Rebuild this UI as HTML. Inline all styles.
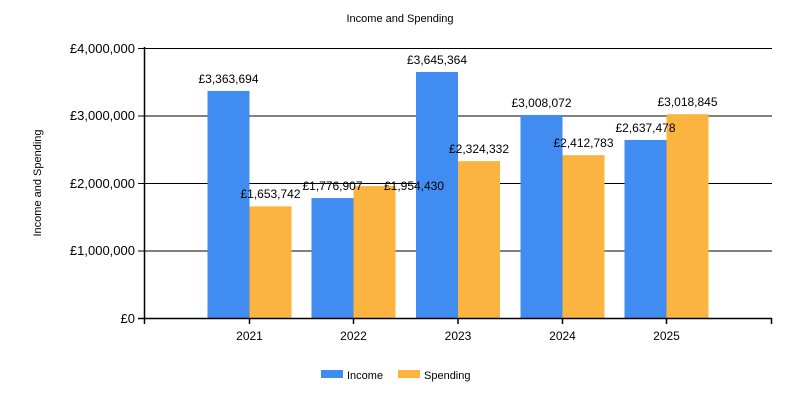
<!DOCTYPE html>
<html><head><style>
body{margin:0;background:#fff;}
svg{display:block;font-family:"Liberation Sans",Arial,sans-serif;}
</style></head><body>
<svg width="800" height="400" xmlns="http://www.w3.org/2000/svg">
<rect width="800" height="400" fill="#fff"/>
<text x="400" y="22" font-size="11" text-anchor="middle">Income and Spending</text>
<text transform="translate(41,183) rotate(-90)" font-size="11" text-anchor="middle">Income and Spending</text>
<g stroke="#000" stroke-width="1">
<line x1="138" y1="48.5" x2="772" y2="48.5"/>
<line x1="138" y1="116" x2="772" y2="116"/>
<line x1="138" y1="183.5" x2="772" y2="183.5"/>
<line x1="138" y1="251" x2="772" y2="251"/>
</g>
<g font-size="13" text-anchor="end">
<text x="135" y="53">£4,000,000</text>
<text x="135" y="120">£3,000,000</text>
<text x="135" y="188">£2,000,000</text>
<text x="135" y="255">£1,000,000</text>
<text x="135" y="323">£0</text>
</g>
<g>
<rect x="207.5" y="90.95" width="42" height="227.05" fill="#418CF0"/>
<rect x="249.5" y="206.37" width="42" height="111.63" fill="#FCB441"/>
<rect x="311.5" y="198.06" width="42" height="119.94" fill="#418CF0"/>
<rect x="353.5" y="186.08" width="42" height="131.92" fill="#FCB441"/>
<rect x="416" y="71.94" width="42" height="246.06" fill="#418CF0"/>
<rect x="458" y="161.11" width="42" height="156.89" fill="#FCB441"/>
<rect x="520.5" y="114.96" width="42" height="203.04" fill="#418CF0"/>
<rect x="562.5" y="155.14" width="42" height="162.86" fill="#FCB441"/>
<rect x="624.5" y="139.97" width="42" height="178.03" fill="#418CF0"/>
<rect x="666.5" y="114.23" width="42" height="203.77" fill="#FCB441"/>
</g>
<g font-size="12" text-anchor="middle">
<text x="228.5" y="83">£3,363,694</text>
<text x="270.5" y="198">£1,653,742</text>
<text x="332.5" y="190">£1,776,907</text>
<text x="414" y="190">£1,954,430</text>
<text x="437" y="64">£3,645,364</text>
<text x="479" y="153">£2,324,332</text>
<text x="541.5" y="107">£3,008,072</text>
<text x="583.5" y="147">£2,412,783</text>
<text x="645.5" y="132">£2,637,478</text>
<text x="687.5" y="106">£3,018,845</text>
</g>
<g stroke="#000" stroke-width="1.5">
<line x1="144.5" y1="47" x2="144.5" y2="319"/>
<line x1="138" y1="318.5" x2="772" y2="318.5"/>
<line x1="144.5" y1="318" x2="144.5" y2="324"/>
<line x1="249.5" y1="318" x2="249.5" y2="324"/>
<line x1="353.5" y1="318" x2="353.5" y2="324"/>
<line x1="458" y1="318" x2="458" y2="324"/>
<line x1="562.5" y1="318" x2="562.5" y2="324"/>
<line x1="666.5" y1="318" x2="666.5" y2="324"/>
<line x1="771.5" y1="318" x2="771.5" y2="324"/>
</g>
<g font-size="12" text-anchor="middle">
<text x="249.5" y="340">2021</text>
<text x="353.5" y="340">2022</text>
<text x="458" y="340">2023</text>
<text x="562.5" y="340">2024</text>
<text x="666.5" y="340">2025</text>
</g>
<rect x="321" y="370" width="22" height="8" fill="#418CF0"/>
<text x="347" y="379" font-size="11">Income</text>
<rect x="398" y="370" width="22" height="8" fill="#FCB441"/>
<text x="424" y="379" font-size="11">Spending</text>
</svg>
</body></html>
